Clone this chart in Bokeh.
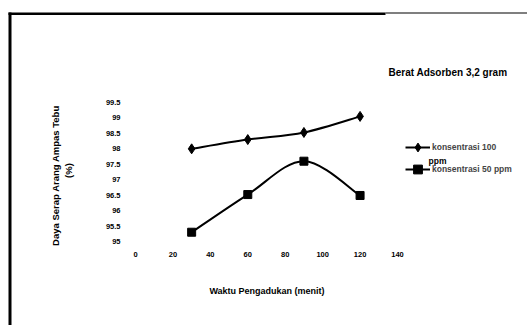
from bokeh.plotting import figure
from bokeh.models import FixedTicker, Legend, LegendItem, Label, BoxAnnotation
from bokeh.embed import file_html
from bokeh.resources import INLINE

# ---- data ----
waktu = [30, 60, 90, 120]                      # Waktu Pengadukan (menit)
konsentrasi_100 = [98.0, 98.3, 98.53, 99.05]   # konsentrasi 100 ppm
konsentrasi_50 = [95.3, 96.52, 97.6, 96.49]    # konsentrasi 50 ppm
x_ticks = [0, 20, 40, 60, 80, 100, 120, 140]
y_ticks = [95, 95.5, 96, 96.5, 97, 97.5, 98, 98.5, 99, 99.5]
y_tick_labels = ["95", "95.5", "96", "96.5", "97", "97.5", "98", "98.5", "99", "99.5"]

FONT = "Liberation Sans"
W, H = 527, 325
KX = 262 / 140.0       # px per minute
KY = 139 / 4.5         # px per percent
X0, Y0 = 135, 241      # page position of (0, 95)


def dx(px):
    return (px - X0) / KX


def dy(py):
    return 95 + (Y0 - py) / KY


p = figure(width=W, height=H, output_backend="svg", toolbar_location=None,
           x_range=(dx(0), dx(W)), y_range=(dy(H), dy(0)),
           min_border=0, min_border_left=0, min_border_right=0,
           min_border_top=0, min_border_bottom=0)
p.outline_line_color = None
p.grid.visible = False
p.background_fill_color = "white"
p.border_fill_color = "white"

for ax in (p.xaxis[0], p.yaxis[0]):
    ax.axis_line_color = None
    ax.major_tick_line_color = None
    ax.minor_tick_line_color = None
    ax.major_tick_out = 0
    ax.major_tick_in = 0
    ax.major_label_text_font = FONT
    ax.major_label_text_font_style = "bold"
    ax.major_label_text_font_size = "7.5px"
    ax.major_label_text_color = "black"

p.xaxis.fixed_location = 95
p.yaxis.fixed_location = 0
p.xaxis.ticker = FixedTicker(ticks=x_ticks)
p.xaxis.major_label_standoff = 10
p.yaxis.ticker = FixedTicker(ticks=y_ticks)
p.yaxis.major_label_overrides = {t: s for t, s in zip(y_ticks, y_tick_labels)}
p.yaxis.major_label_standoff = 15


def smooth(xs, ys):
    n = len(xs)
    px = [xs[0]] + list(xs) + [xs[-1]]
    py = [ys[0]] + list(ys) + [ys[-1]]
    out = dict(x0=[], y0=[], x1=[], y1=[], cx0=[], cy0=[], cx1=[], cy1=[])
    for i in range(n - 1):
        j = i + 1
        out["x0"].append(px[j]); out["y0"].append(py[j])
        out["x1"].append(px[j + 1]); out["y1"].append(py[j + 1])
        out["cx0"].append(px[j] + (px[j + 1] - px[j - 1]) / 6)
        out["cy0"].append(py[j] + (py[j + 1] - py[j - 1]) / 6)
        out["cx1"].append(px[j + 1] - (px[j + 2] - px[j]) / 6)
        out["cy1"].append(py[j + 1] - (py[j + 2] - py[j]) / 6)
    return out


b1 = smooth(waktu, konsentrasi_100)
r1l = p.bezier(line_color="black", line_width=2, **b1)
r1m = p.scatter(waktu, konsentrasi_100, marker="diamond", size=10,
                fill_color="black", line_color="black")

b2 = smooth(waktu, konsentrasi_50)
r2l = p.bezier(line_color="black", line_width=2, **b2)
r2m = p.scatter(waktu, konsentrasi_50, marker="square", size=8,
                fill_color="black", line_color="black")

legend = Legend(items=[LegendItem(label="konsentrasi 100", renderers=[r1l, r1m]),
                       LegendItem(label="konsentrasi 50 ppm", renderers=[r2l, r2m])],
                location=(405, H - 180), padding=0, margin=0, spacing=0,
                glyph_width=25, glyph_height=22, label_height=22,
                label_standoff=2, border_line_color=None,
                background_fill_alpha=0,
                label_text_font=FONT, label_text_font_style="bold",
                label_text_font_size="8.5px")
p.add_layout(legend)


def text(x, y, s, size, align="left", angle=0.0):
    p.add_layout(Label(x=x, y=y, text=s, angle=angle, text_font=FONT,
                       text_font_style="bold", text_font_size=size,
                       text_align=align, text_baseline="middle",
                       text_color="black"))


text(dx(428), dy(160), "ppm", "8.5px")
text(dx(388), dy(72), "Berat Adsorben 3,2 gram", "10px")
text(dx(266.5), dy(290), "Waktu Pengadukan (menit)", "9px", align="center")
text(dx(55), dy(175), "Daya Serap Arang Ampas Tebu", "9.5px", align="center",
     angle=1.5708)
text(dx(68), dy(170), "(%)", "9.5px", align="center", angle=1.5708)

# frame of the scanned page
def bar(x_left, x_right, y_top, y_bottom):
    p.add_layout(BoxAnnotation(left=dx(x_left), right=dx(x_right),
                               top=dy(y_top), bottom=dy(y_bottom),
                               fill_color="black", fill_alpha=1, line_color=None))


bar(8, 11, 12, 330)
bar(8, 385, 12, 14.5)
bar(385, 530, 12, 13)

open("out.html", "w").write(file_html(p, INLINE))
